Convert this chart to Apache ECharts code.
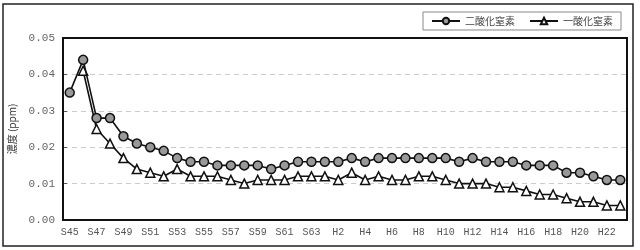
<!DOCTYPE html>
<html><head><meta charset="utf-8">
<script src="https://cdn.jsdelivr.net/npm/echarts@6/dist/echarts.min.js"></script>
<style>html,body{margin:0;padding:0;background:#fff}#c{width:640px;height:250px}</style>
</head><body><div id="c"></div>
<script>
const categories = ['S45','S46','S47','S48','S49','S50','S51','S52','S53','S54','S55','S56','S57','S58','S59','S60','S61','S62','S63',
 'H1','H2','H3','H4','H5','H6','H7','H8','H9','H10','H11','H12','H13','H14','H15','H16','H17','H18','H19','H20','H21','H22','H23'];
const no2 = [0.035,0.044,0.028,0.028,0.023,0.021,0.020,0.019,0.017,0.016,0.016,0.015,0.015,0.015,0.015,0.014,0.015,0.016,0.016,
 0.016,0.016,0.017,0.016,0.017,0.017,0.017,0.017,0.017,0.017,0.016,0.017,0.016,0.016,0.016,0.015,0.015,0.015,0.013,0.013,0.012,0.011,0.011];
const no = [null,0.041,0.025,0.021,0.017,0.014,0.013,0.012,0.014,0.012,0.012,0.012,0.011,0.010,0.011,0.011,0.011,0.012,0.012,
 0.012,0.011,0.013,0.011,0.012,0.011,0.011,0.012,0.012,0.011,0.010,0.010,0.010,0.009,0.009,0.008,0.007,0.007,0.006,0.005,0.005,0.004,0.004];
const yTicks = [0,0.01,0.02,0.03,0.04,0.05];
const seriesNames = ['二酸化窒素','一酸化窒素'];

const W = 640, H = 250;
const G = {left:63, top:38, right:13, bottom:30};
const chart = echarts.init(document.getElementById('c'), null, {renderer:'canvas'});
const font = '"Liberation Mono", "DejaVu Sans Mono", monospace';
const jp = '"Noto Sans CJK JP", sans-serif';
chart.setOption({
  animation:false,
  backgroundColor:'#fff',
  graphic:[
    {type:'rect',shape:{x:3,y:4,width:630,height:242},style:{fill:'none',stroke:'#222',lineWidth:1.5},silent:true,z:10},
    {type:'rect',shape:{x:G.left,y:G.top,width:W-G.left-G.right,height:H-G.top-G.bottom},style:{fill:'none',stroke:'#111',lineWidth:2},silent:true,z:10}
  ],
  grid:{left:G.left,top:G.top,right:G.right,bottom:G.bottom,containLabel:false,outerBoundsMode:'none'},
  legend:{
    data:seriesNames, right:19, top:12, orient:'horizontal',
    borderColor:'#888', borderWidth:1, padding:[4,8,4,8], itemGap:14,
    itemWidth:28, itemHeight:8,
    textStyle:{fontSize:10,color:'#444',fontFamily:jp}
  },
  xAxis:{
    type:'category', data:categories, boundaryGap:true,
    axisLine:{lineStyle:{color:'#111',width:2}},
    axisTick:{inside:true,length:4,lineStyle:{color:'#555'}},
    axisLabel:{interval:1,fontSize:10,color:'#555',fontFamily:font,margin:7}
  },
  yAxis:{
    type:'value', min:yTicks[0], max:yTicks[yTicks.length-1], interval:0.01,
    name:'濃度 (ppm)', nameLocation:'middle', nameRotate:90, nameGap:46,
    nameTextStyle:{fontSize:10,color:'#333',fontFamily:jp},
    axisLine:{show:true,lineStyle:{color:'#111',width:2}},
    axisTick:{show:true,inside:true,length:4,lineStyle:{color:'#555'}},
    axisLabel:{fontSize:11,color:'#666',fontFamily:font,margin:8,formatter:v=>v.toFixed(2)},
    splitLine:{show:true,showMaxLine:false,showMinLine:false,lineStyle:{color:'#ccc',type:[5,4],width:1}}
  },
  series:[
    {name:seriesNames[0],type:'line',data:no2,symbol:'circle',symbolSize:9,showAllSymbol:true,
     lineStyle:{color:'#111',width:1.6},itemStyle:{color:'#999',borderColor:'#111',borderWidth:1.5},z:3},
    {name:seriesNames[1],type:'line',data:no,symbol:'triangle',symbolSize:9,showAllSymbol:true,
     lineStyle:{color:'#111',width:1.6},itemStyle:{color:'#fff',borderColor:'#111',borderWidth:1.5},z:2}
  ]
});
</script></body></html>
